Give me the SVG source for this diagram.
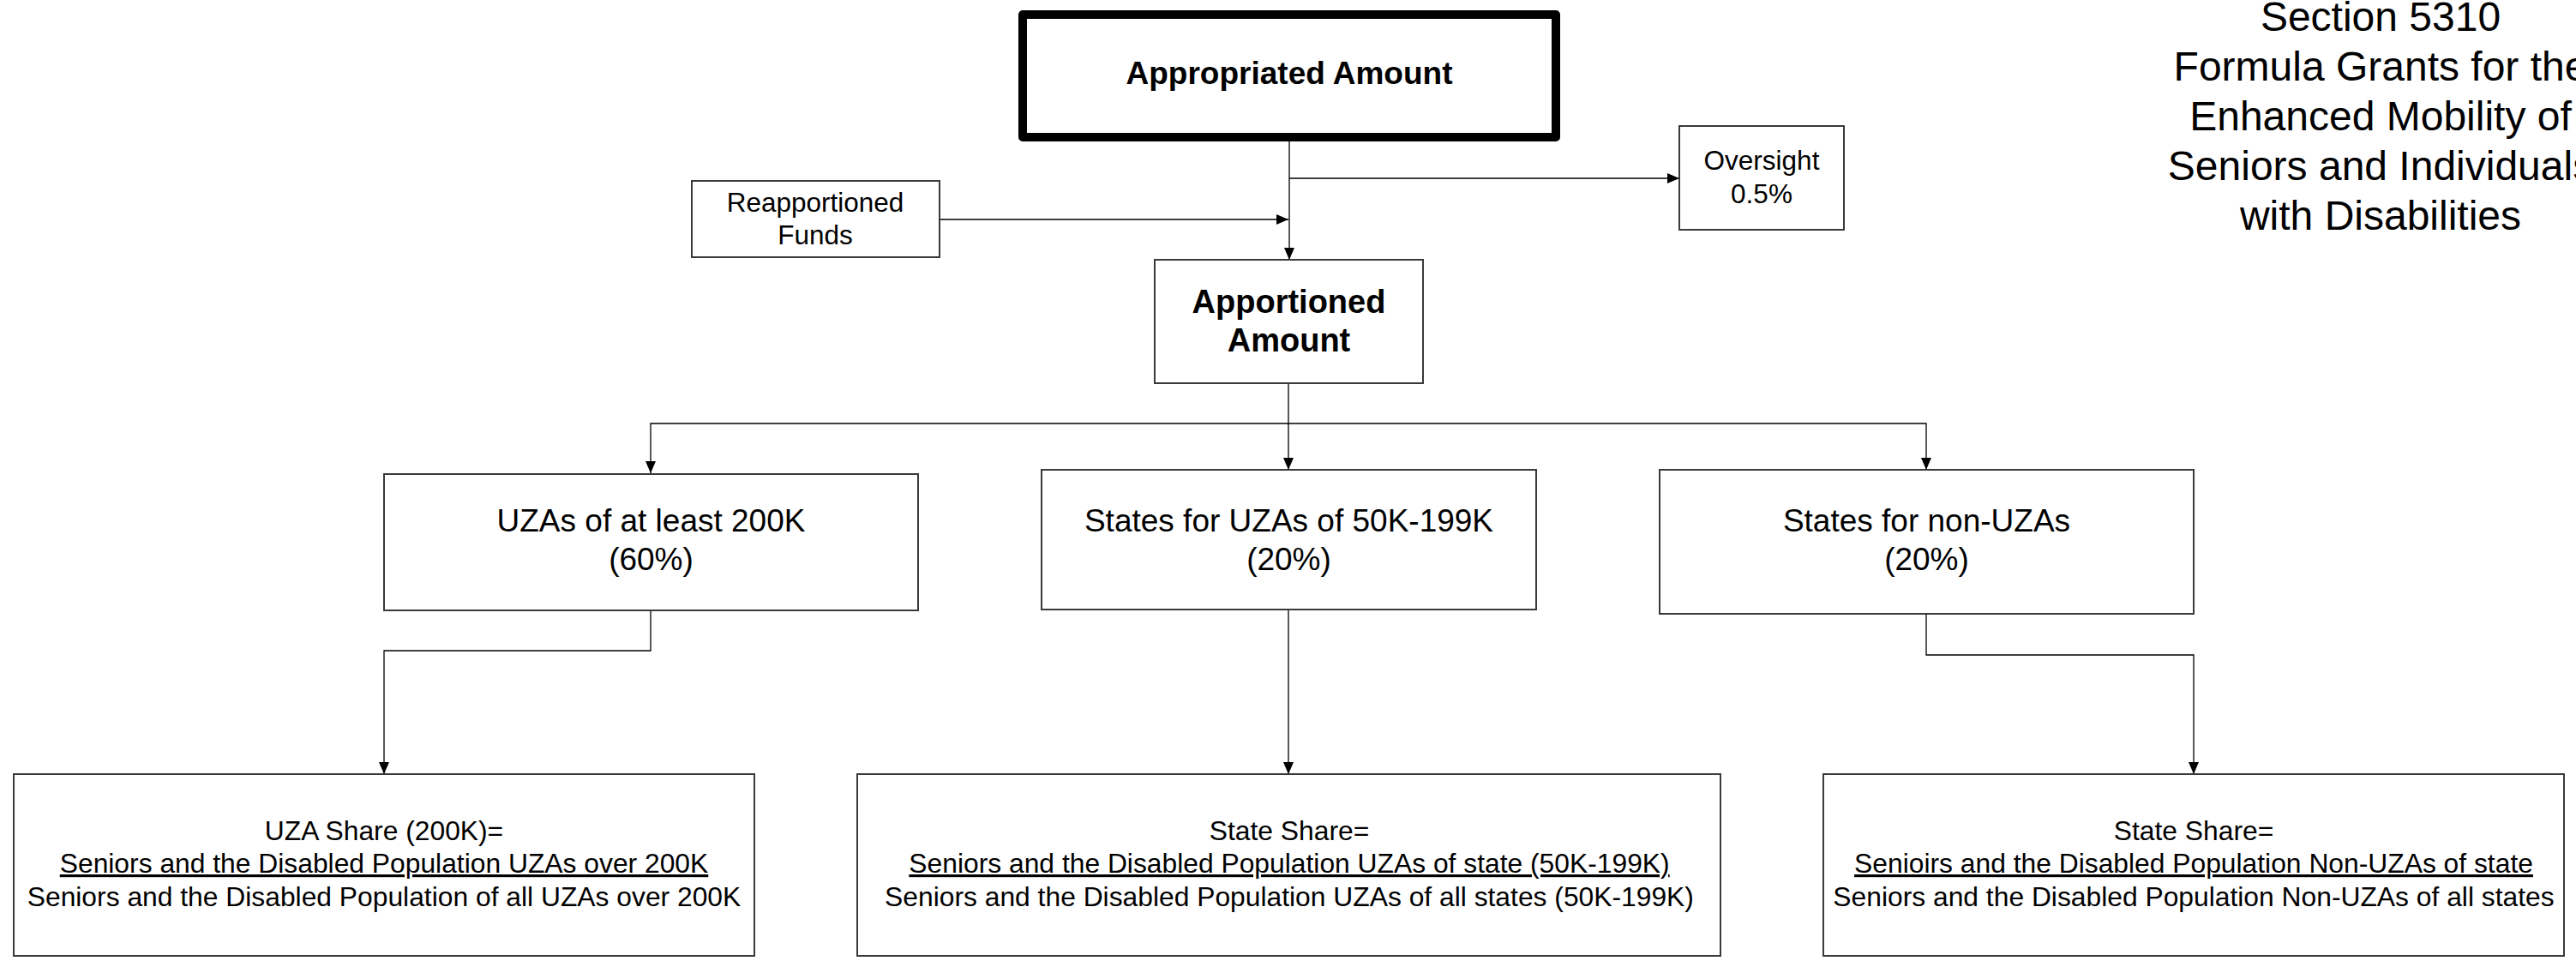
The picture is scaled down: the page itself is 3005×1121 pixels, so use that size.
<svg xmlns="http://www.w3.org/2000/svg" width="3005" height="1121" viewBox="0 0 3005 1121">
<style>
.box{fill:#fff;stroke:#3a3a3a;stroke-width:2}
.t{font-family:"Liberation Sans",Arial,sans-serif;fill:#000;text-anchor:middle}
.b{font-weight:bold}
.c{fill:none;stroke:#000;stroke-width:1.3}
</style>
<defs>
<marker id="ah" viewBox="0 0 14 12" refX="14" refY="6" markerWidth="14" markerHeight="12" markerUnits="userSpaceOnUse" orient="auto">
<path d="M0,0 L14,6 L0,12 Z" fill="#000"/>
</marker>
</defs>
<rect width="3005" height="1121" fill="#fff"/>
<g id="connectors">
<path class="c" d="M1504,165 V303" marker-end="url(#ah)"/>
<path class="c" d="M1504,208 H1959" marker-end="url(#ah)"/>
<path class="c" d="M1096,256 H1503" marker-end="url(#ah)"/>
<path class="c" d="M1503,447 V494 H759 V552" marker-end="url(#ah)"/>
<path class="c" d="M1503,494 V548" marker-end="url(#ah)"/>
<path class="c" d="M1503,494 H2247 V548" marker-end="url(#ah)"/>
<path class="c" d="M759,712 V759 H448 V903" marker-end="url(#ah)"/>
<path class="c" d="M1503,711 V903" marker-end="url(#ah)"/>
<path class="c" d="M2247,716 V764 H2559 V903" marker-end="url(#ah)"/>
</g>
<g id="title">
<text class="t" font-size="48" x="2777" y="36">Section 5310</text>
<text class="t" font-size="48" x="2777" y="94">Formula Grants for the</text>
<text class="t" font-size="48" x="2777" y="152">Enhanced Mobility of</text>
<text class="t" font-size="48" x="2777" y="210">Seniors and Individuals</text>
<text class="t" font-size="48" x="2777" y="268">with Disabilities</text>
</g>
<g id="appropriated">
<rect x="1193" y="17" width="622" height="143" fill="#fff" stroke="#000" stroke-width="10" stroke-linejoin="round"/>
<text class="t b" font-size="37" x="1504" y="98">Appropriated Amount</text>
</g>
<g id="reapportioned">
<rect class="box" x="807" y="211" width="289" height="89"/>
<text class="t" font-size="31.5" x="951" y="247">Reapportioned</text>
<text class="t" font-size="31.5" x="951" y="285">Funds</text>
</g>
<g id="oversight">
<rect class="box" x="1959" y="147" width="192" height="121"/>
<text class="t" font-size="31.5" x="2055" y="198">Oversight</text>
<text class="t" font-size="31.5" x="2055" y="237">0.5%</text>
</g>
<g id="apportioned">
<rect class="box" x="1347" y="303" width="313" height="144"/>
<text class="t b" font-size="38" x="1503.5" y="365">Apportioned</text>
<text class="t b" font-size="38" x="1503.5" y="410">Amount</text>
</g>
<g id="uza200">
<rect class="box" x="448" y="553" width="623" height="159"/>
<text class="t" font-size="37" x="759.5" y="620">UZAs of at least 200K</text>
<text class="t" font-size="37" x="759.5" y="665">(60%)</text>
</g>
<g id="uza50">
<rect class="box" x="1215" y="548" width="577" height="163"/>
<text class="t" font-size="37" x="1503.5" y="620">States for UZAs of 50K-199K</text>
<text class="t" font-size="37" x="1503.5" y="665">(20%)</text>
</g>
<g id="nonuza">
<rect class="box" x="1936" y="548" width="623" height="168"/>
<text class="t" font-size="37" x="2247.5" y="620">States for non-UZAs</text>
<text class="t" font-size="37" x="2247.5" y="665">(20%)</text>
</g>
<g id="share200">
<rect class="box" x="16" y="903" width="864" height="212"/>
<text class="t" font-size="31.8" x="448" y="980">UZA Share (200K)=</text>
<text class="t" font-size="31.8" x="448" y="1018" text-decoration="underline">Seniors and the Disabled Population UZAs over 200K</text>
<text class="t" font-size="31.8" x="448" y="1057">Seniors and the Disabled Population of all UZAs over 200K</text>
</g>
<g id="share50">
<rect class="box" x="1000" y="903" width="1007" height="212"/>
<text class="t" font-size="31.8" x="1504" y="980">State Share=</text>
<text class="t" font-size="31.8" x="1504" y="1018" text-decoration="underline">Seniors and the Disabled Population UZAs of state (50K-199K)</text>
<text class="t" font-size="31.8" x="1504" y="1057">Seniors and the Disabled Population UZAs of all states (50K-199K)</text>
</g>
<g id="sharenon">
<rect class="box" x="2127" y="903" width="864" height="212"/>
<text class="t" font-size="31.8" x="2559" y="980">State Share=</text>
<text class="t" font-size="31.8" x="2559" y="1018" text-decoration="underline">Senioirs and the Disabled Population Non-UZAs of state</text>
<text class="t" font-size="31.8" x="2559" y="1057">Seniors and the Disabled Population Non-UZAs of all states</text>
</g>
</svg>
